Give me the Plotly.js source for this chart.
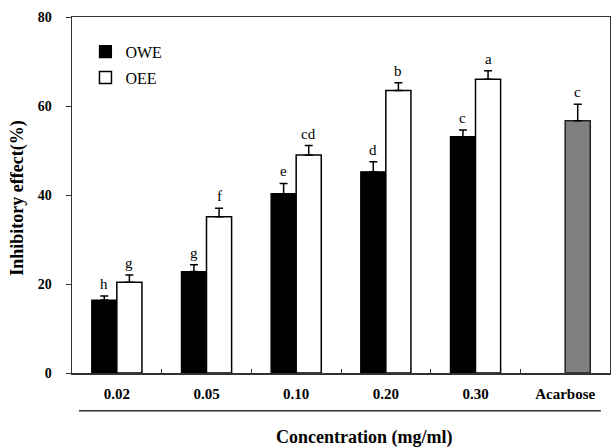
<!DOCTYPE html>
<html><head><meta charset="utf-8">
<script src="https://cdn.plot.ly/plotly-3.0.1.min.js"></script>
<style>html,body{margin:0;padding:0;background:#fff}</style>
</head><body><div id="chart" style="width:611px;height:448px"></div>
<script>
const categories = ['0.02','0.05','0.10','0.20','0.30','Acarbose'];
const oweCategories = ['0.02','0.05','0.10','0.20','0.30'];
const oweValues = [16.4,22.8,40.3,45.2,53.1];
const oweErrors = [0.9,1.5,2.3,2.3,1.5];
const owePosthoc = ['h','g','e','d','c'];
const oeeCategories = ['0.02','0.05','0.10','0.20','0.30'];
const oeeValues = [20.4,35.1,49.0,63.5,66.0];
const oeeErrors = [1.6,1.9,2.1,1.7,1.9];
const oeePosthoc = ['g','f','cd','b','a'];
const acarboseCategory = ['Acarbose'];
const acarboseValue = [56.7];
const acarboseError = [3.7];
const acarbosePosthoc = ['c'];

const serif = 'Liberation Serif, Times New Roman, serif';
const BW = 0.28;
function err(arr){return {type:'data',array:arr,arrayminus:arr.map(()=>0),symmetric:false,color:'#000',thickness:1.5,width:4};}

const traces = [
  {type:'bar',name:'OWE',x:oweCategories,y:oweValues,width:BW,offset:-BW,
   marker:{color:'#000',line:{color:'#000',width:1.2}},error_y:err(oweErrors),legendgroup:'a'},
  {type:'bar',name:'OEE',x:oeeCategories,y:oeeValues,width:BW,offset:0,
   marker:{color:'#fff',line:{color:'#000',width:1.5}},error_y:err(oeeErrors),legendgroup:'b'},
  {type:'bar',name:'Acarbose',x:acarboseCategory,y:acarboseValue,width:BW,offset:0,showlegend:false,
   marker:{color:'#808080',line:{color:'#222',width:1.5}},error_y:err(acarboseError)}
];

const ann = [];
function addLetters(xs, vals, errs, letters, shift){
  xs.forEach((c,i)=>{
    ann.push({x:categories.indexOf(c),y:vals[i]+errs[i],xref:'x',yref:'y',text:letters[i],showarrow:false,
      xshift:shift,yshift:12,font:{family:serif,size:15,color:'#000'}});
  });
}
addLetters(oweCategories,oweValues,oweErrors,owePosthoc,-12.6);
addLetters(oeeCategories,oeeValues,oeeErrors,oeePosthoc,12.6);
addLetters(acarboseCategory,acarboseValue,acarboseError,acarbosePosthoc,12.6);

ann.push({text:'Inhibitory effect(%)',xref:'paper',yref:'paper',x:-0.102,y:0.49,textangle:-90,showarrow:false,
  font:{family:serif,size:18,color:'#000',weight:'bold'},xanchor:'center',yanchor:'middle'});
ann.push({text:'Concentration (mg/ml)',xref:'paper',yref:'paper',x:0.543,y:-0.18,showarrow:false,
  font:{family:serif,size:18,color:'#000',weight:'bold'},xanchor:'center',yanchor:'middle'});

const layout = {
  width:611,height:448,
  margin:{l:72,r:1,t:17,b:75},
  paper_bgcolor:'#fff',plot_bgcolor:'#fff',
  showlegend:true,
  legend:{x:0.025,y:0.95,xanchor:'left',yanchor:'top',bgcolor:'rgba(0,0,0,0)',
    font:{family:serif,size:16,color:'#000'},tracegroupgap:2,traceorder:'grouped'},
  xaxis:{type:'category',categoryorder:'array',categoryarray:categories,range:[-0.5,5.5],
    showline:true,linecolor:'#333',linewidth:1.5,mirror:true,
    ticks:'inside',tickson:'boundaries',ticklen:4,tickcolor:'#333',tickwidth:1,
    showgrid:false,zeroline:false,ticklabelstandoff:6,
    tickfont:{family:serif,size:15,color:'#000',weight:'bold'}},
  yaxis:{range:[0,80],tickvals:[0,20,40,60,80],
    showline:true,linecolor:'#333',linewidth:1.5,mirror:true,
    ticks:'outside',ticklen:5,tickcolor:'#333',tickwidth:1,
    showgrid:false,zeroline:false,ticklabelstandoff:11,
    tickfont:{family:serif,size:14,color:'#000',weight:'bold'}},
  annotations:ann,
  shapes:[{type:'line',xref:'paper',yref:'paper',x0:0.013,x1:0.983,y0:-0.106,y1:-0.106,
    line:{color:'#333',width:1.5}}]
};
Plotly.newPlot('chart',traces,layout,{displayModeBar:false,staticPlot:true});
</script></body></html>
